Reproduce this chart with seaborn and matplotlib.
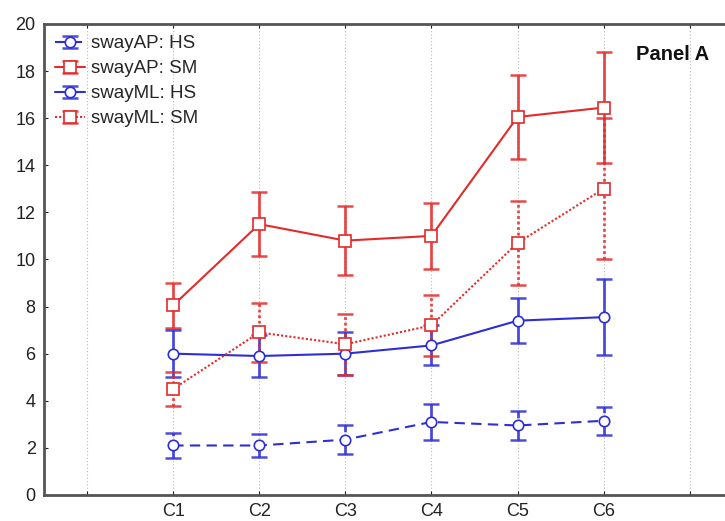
import numpy as np
import pandas as pd
import seaborn as sns
import matplotlib.pyplot as plt
from matplotlib.legend_handler import HandlerTuple, HandlerErrorbar
from matplotlib.container import ErrorbarContainer

# category labels and values
conditions = ['C1', 'C2', 'C3', 'C4', 'C5', 'C6']
ap_hs = [2.1, 2.1, 2.35, 3.1, 2.95, 3.15]
ap_hs_err = [0.55, 0.5, 0.6, 0.75, 0.6, 0.6]
ap_sm = [8.05, 11.5, 10.8, 11.0, 16.05, 16.45]
ap_sm_err = [0.95, 1.35, 1.45, 1.4, 1.8, 2.35]
ml_hs = [6.0, 5.9, 6.0, 6.35, 7.4, 7.55]
ml_hs_err = [1.0, 0.9, 0.9, 0.85, 0.95, 1.6]
ml_sm = [4.5, 6.9, 6.4, 7.2, 10.7, 13.0]
ml_sm_err = [0.72, 1.25, 1.3, 1.3, 1.8, 3.0]

blue = '#2e2ed6'
red = '#e42a2a'

series = [
    ('swayAP: HS', ap_hs, ap_hs_err, blue, (0, (5, 3)), 'o'),
    ('swayAP: SM', ap_sm, ap_sm_err, red, '-', 's'),
    ('swayML: HS', ml_hs, ml_hs_err, blue, '-', 'o'),
    ('swayML: SM', ml_sm, ml_sm_err, red, (0, (1, 1)), 's'),
]

sns.set_style('white')
plt.rcParams['font.family'] = ['Liberation Sans', 'DejaVu Sans']

fig = plt.figure(figsize=(7.25, 5.21), dpi=100)
ax = fig.add_axes([0.0607, 0.05, 0.95, 0.904])

xpos = np.arange(1, len(conditions) + 1)
handles = []
for label, vals, errs, color, ls, marker in series:
    df = pd.DataFrame({'x': xpos, 'y': vals})
    sns.lineplot(data=df, x='x', y='y', ax=ax, color=color, linestyle=ls,
                 linewidth=1.5, marker=marker, markersize=8 if marker == 's' else 7.5,
                 markerfacecolor='white', markeredgecolor=color, markeredgewidth=1.2,
                 legend=False, zorder=3)
    line = ax.lines[-1]
    eb = ax.errorbar(xpos, vals, yerr=errs, fmt='none', ecolor=color, elinewidth=2.0,
                     capsize=5.5, capthick=1.8, zorder=2, alpha=0.85)
    eb[2][0].set_linestyle(ls)
    handles.append(((eb, line), label))

ax.set_xlim(-0.5, 7.5)
ax.set_ylim(0, 20)
ax.set_xticks(range(0, 8))
ax.set_xticklabels([''] + conditions + [''])
ax.set_yticks(range(0, 21, 2))
ax.set_xlabel('')
ax.set_ylabel('')
ax.xaxis.grid(True, linestyle=(0, (1, 2)), color='#b8b8b8', linewidth=0.8)
ax.yaxis.grid(False)
ax.tick_params(axis='both', labelsize=13, colors='#222222', length=3, direction='in',
               left=True, bottom=True, top=True, pad=6)
for sp in ax.spines.values():
    sp.set_color('#555555')
    sp.set_linewidth(2)

ax.text(0.86, 0.935, 'Panel A', transform=ax.transAxes, fontsize=14.5,
        fontweight='bold', color='#111111', ha='left', va='center')

ax.legend([h for h, _ in handles], [l for _, l in handles],
          handler_map={tuple: HandlerTuple(ndivide=1, pad=0),
                       ErrorbarContainer: HandlerErrorbar(xerr_size=0.5, yerr_size=0.32)},
          loc='upper left', bbox_to_anchor=(0.0, 1.0), frameon=False,
          fontsize=13.5, handlelength=1.6, handletextpad=0.3, labelspacing=0.42,
          borderaxespad=0.2)

fig.savefig('out.png', dpi=100)
